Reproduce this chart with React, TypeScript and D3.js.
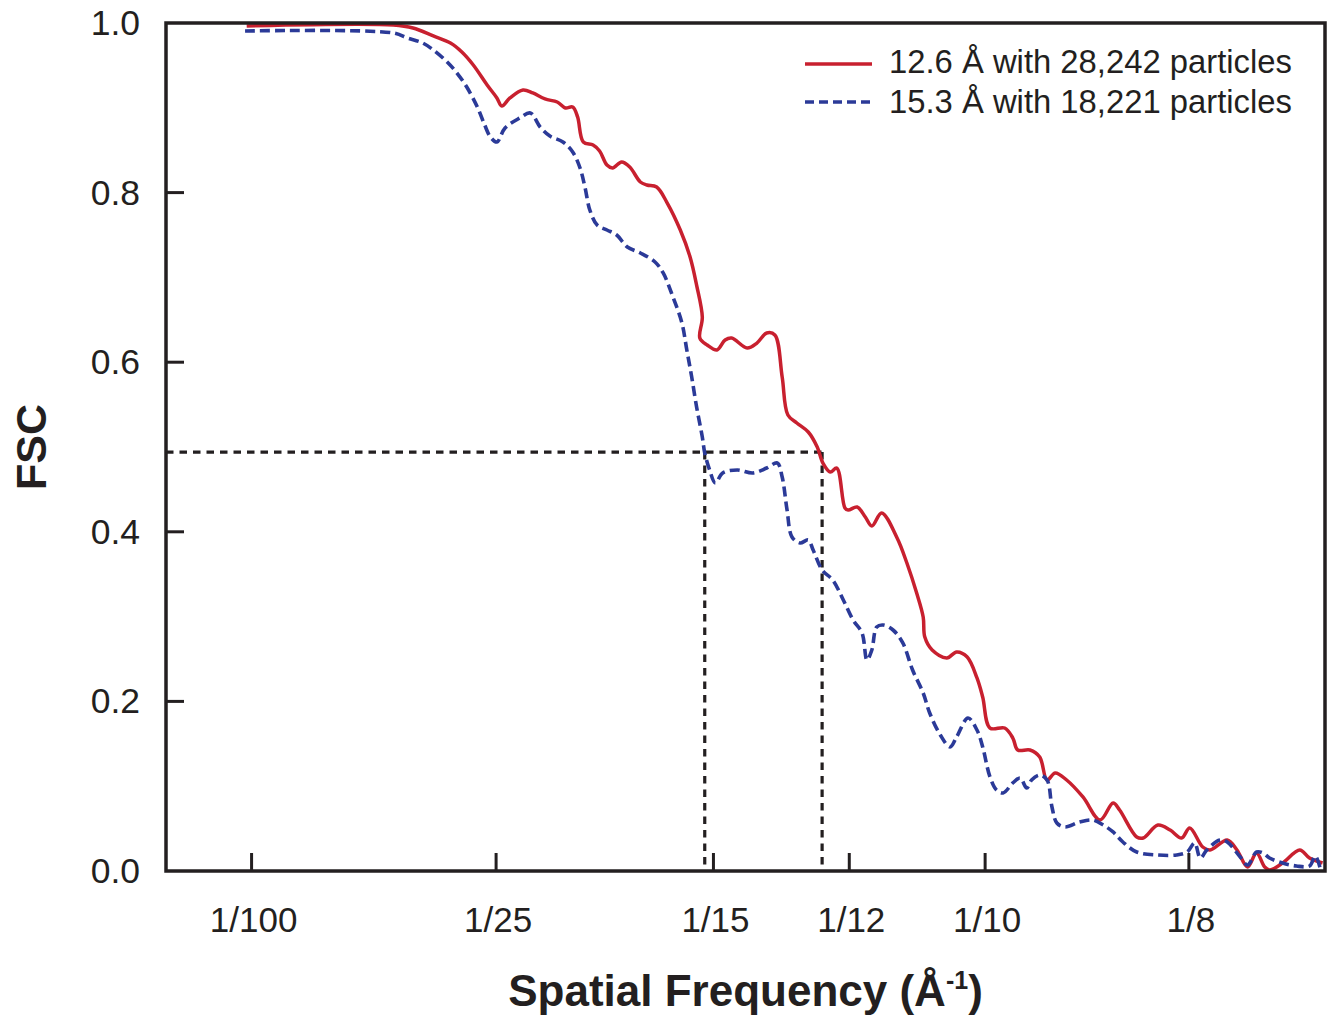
import React from 'react';
import * as d3 from 'd3';

// FSC curves (x in 1/Å, y = FSC)
const redFreq = [
  0.0094, 0.0274, 0.0298, 0.0323, 0.0344, 0.0358, 0.0372, 0.0389, 0.0401, 0.0407,
  0.0417, 0.0433, 0.0445, 0.046, 0.0475, 0.0485, 0.0494, 0.05, 0.0507, 0.0519,
  0.0527, 0.0536, 0.0543, 0.0554, 0.0564, 0.0577, 0.0585, 0.0597, 0.061, 0.0626,
  0.0638, 0.0646, 0.0653, 0.065, 0.0659, 0.0671, 0.0681, 0.0689, 0.0708, 0.072,
  0.0732, 0.0742, 0.0751, 0.0758, 0.0769, 0.0783, 0.0794, 0.0801, 0.081, 0.0818,
  0.0828, 0.0832, 0.0843, 0.0853, 0.0861, 0.0873, 0.0892, 0.0904, 0.0916, 0.0924,
  0.0926, 0.0935, 0.0953, 0.0965, 0.0978, 0.099, 0.0997, 0.1006, 0.1024, 0.1034,
  0.104, 0.1055, 0.1067, 0.1076, 0.1086, 0.11, 0.112, 0.1141, 0.1157, 0.1165,
  0.1186, 0.1194, 0.1212, 0.1227, 0.1241, 0.1251, 0.1267, 0.1276, 0.1297, 0.1309,
  0.1322, 0.1333, 0.1343, 0.1349, 0.1365, 0.1386, 0.1398, 0.1414,
];
const redFsc = [
  0.9965, 0.9976, 0.9941, 0.9847, 0.9764, 0.9658, 0.9505, 0.9269, 0.9116, 0.9021,
  0.9116, 0.921, 0.9175, 0.9104, 0.9068, 0.8998, 0.9009, 0.8892, 0.8597, 0.8561,
  0.8491, 0.8325, 0.829, 0.8361, 0.8302, 0.8125, 0.809, 0.8066, 0.7877, 0.7559,
  0.7241, 0.691, 0.6533, 0.6285, 0.6203, 0.6144, 0.6262, 0.6285, 0.6167, 0.6226,
  0.6344, 0.6321, 0.5825, 0.5377, 0.5283, 0.5177, 0.5, 0.4811, 0.4705, 0.4752,
  0.4281, 0.4257, 0.4292, 0.4175, 0.4068, 0.4222, 0.3927, 0.3632, 0.3278, 0.2995,
  0.2759, 0.2606, 0.2512, 0.2583, 0.2524, 0.2276, 0.2052, 0.1686, 0.1686, 0.1568,
  0.1427, 0.1427, 0.1344, 0.1073, 0.1156, 0.1073, 0.0873, 0.0601, 0.0802, 0.0719,
  0.0401, 0.0389, 0.0542, 0.0483, 0.0389, 0.0507, 0.0283, 0.0248, 0.0366, 0.0248,
  0.0047, 0.0212, 0.0047, 0.0012, 0.0094, 0.0248, 0.0153, 0.0094,
];

const blueFreq = [
  0.0092, 0.0274, 0.0291, 0.031, 0.0323, 0.034, 0.0352, 0.0364, 0.0377, 0.0386,
  0.0393, 0.0401, 0.0411, 0.0429, 0.0442, 0.0454, 0.0466, 0.0482, 0.0494, 0.0503,
  0.0509, 0.0515, 0.0524, 0.0536, 0.0548, 0.0561, 0.0577, 0.0595, 0.0605, 0.0617,
  0.0628, 0.0634, 0.064, 0.0646, 0.0653, 0.0656, 0.0662, 0.0669, 0.0678, 0.0696,
  0.0715, 0.0732, 0.0745, 0.0751, 0.0757, 0.0763, 0.0773, 0.0783, 0.0789, 0.08,
  0.0813, 0.0826, 0.0838, 0.0849, 0.0855, 0.0861, 0.0867, 0.0875, 0.0887, 0.0899,
  0.0911, 0.0924, 0.0932, 0.0945, 0.0957, 0.0965, 0.0979, 0.099, 0.0997, 0.1006,
  0.1014, 0.1022, 0.1034, 0.1043, 0.1051, 0.1057, 0.1067, 0.1076, 0.1082, 0.1088,
  0.1098, 0.1116, 0.1132, 0.1145, 0.1157, 0.1169, 0.1186, 0.1211, 0.1235, 0.1248,
  0.1257, 0.1264, 0.1272, 0.1288, 0.1297, 0.1313, 0.1322, 0.1333, 0.1341, 0.1349,
  0.1365, 0.1382, 0.1398, 0.1405, 0.1411,
];
const blueFsc = [
  0.9906, 0.9882, 0.9823, 0.9764, 0.9682, 0.954, 0.941, 0.9245, 0.9009, 0.8797,
  0.8656, 0.8597, 0.8762, 0.888, 0.8939, 0.8774, 0.8667, 0.8597, 0.8479, 0.829,
  0.8066, 0.7795, 0.7618, 0.7559, 0.75, 0.7358, 0.7288, 0.7182, 0.7052, 0.6769,
  0.6462, 0.6144, 0.5825, 0.5472, 0.5118, 0.4929, 0.4729, 0.4575, 0.4693, 0.4729,
  0.4693, 0.4752, 0.4811, 0.4646, 0.4257, 0.3939, 0.3868, 0.3903, 0.3785, 0.355,
  0.3432, 0.3196, 0.296, 0.2807, 0.2488, 0.2606, 0.2877, 0.2901, 0.2842, 0.2689,
  0.237, 0.2099, 0.1863, 0.1604, 0.1462, 0.158, 0.1804, 0.1663, 0.1462, 0.1108,
  0.0955, 0.092, 0.1038, 0.1097, 0.0979, 0.1073, 0.1132, 0.1073, 0.0755, 0.0566,
  0.0519, 0.0578, 0.0601, 0.0542, 0.046, 0.0342, 0.0224, 0.0189, 0.0189, 0.0224,
  0.033, 0.0153, 0.0248, 0.0366, 0.0342, 0.0165, 0.0071, 0.0224, 0.0212, 0.0153,
  0.0094, 0.0059, 0.0059, 0.0177, 0.0035,
];

// 0.5-ish threshold and the two resolution crossings
const thresholdFsc = 0.494;
const crossFreqs = [0.0656, 0.08];

const xTickValues = [1 / 100, 1 / 25, 1 / 15, 1 / 12, 1 / 10, 1 / 8];
const xTickLabels = ['1/100', '1/25', '1/15', '1/12', '1/10', '1/8'];
const yTickValues = [0, 0.2, 0.4, 0.6, 0.8, 1.0];

const seriesNames = ['12.6 Å with 28,242 particles', '15.3 Å with 18,221 particles'];

const ink = '#231f20';
const red = '#c8202f';
const blue = '#2b3a98';
const font = '"Liberation Sans", Arial, Helvetica, sans-serif';

const App = () => {
  const xScale = d3.scaleLinear().domain([-0.0005, 0.1417]).range([166, 1325]);
  const yScale = d3.scaleLinear().domain([0, 1]).range([871, 23]);

  const line = d3
    .line<[number, number]>()
    .x((d) => xScale(d[0]))
    .y((d) => yScale(d[1]))
    .curve(d3.curveCatmullRom.alpha(0.5));

  const redPath = line(d3.zip(redFreq, redFsc) as [number, number][]);
  const bluePath = line(d3.zip(blueFreq, blueFsc) as [number, number][]);

  const [x0, x1] = xScale.range();
  const [y0, y1] = yScale.range();

  return (
    <svg
      width={1336}
      height={1019}
      style={{ position: 'absolute', left: 0, top: 0, background: 'white' }}
      fontFamily={font}
    >
      {/* threshold guides */}
      <g stroke={ink} strokeWidth={3.2} strokeDasharray="7.5,6" fill="none">
        <line x1={x0} x2={xScale(crossFreqs[1])} y1={yScale(thresholdFsc)} y2={yScale(thresholdFsc)} />
        {crossFreqs.map((f, i) => (
          <line key={i} x1={xScale(f)} x2={xScale(f)} y1={yScale(thresholdFsc)} y2={y0} />
        ))}
      </g>

      {/* curves */}
      <path d={redPath || ''} fill="none" stroke={red} strokeWidth={3.5} strokeLinejoin="round" />
      <path
        d={bluePath || ''}
        fill="none"
        stroke={blue}
        strokeWidth={3.6}
        strokeDasharray="10,5"
      />

      {/* frame */}
      <rect x={x0} y={y1} width={x1 - x0} height={y0 - y1} fill="none" stroke={ink} strokeWidth={3.5} />

      {/* x ticks */}
      {xTickValues.map((v, i) => (
        <g key={i}>
          <line x1={xScale(v)} x2={xScale(v)} y1={y0} y2={y0 - 18} stroke={ink} strokeWidth={3} />
          <text x={xScale(v) + 2} y={932} textAnchor="middle" fontSize={35} fill={ink}>
            {xTickLabels[i]}
          </text>
        </g>
      ))}

      {/* y ticks */}
      {yTickValues.map((v, i) => (
        <g key={i}>
          {v > 0 && v < 1 && (
            <line x1={x0} x2={x0 + 18} y1={yScale(v)} y2={yScale(v)} stroke={ink} strokeWidth={3} />
          )}
          <text x={140} y={yScale(v) + 12} textAnchor="end" fontSize={35.5} fill={ink}>
            {v.toFixed(1)}
          </text>
        </g>
      ))}

      {/* axis titles */}
      <text
        transform={`translate(46, ${(y0 + y1) / 2}) rotate(-90)`}
        textAnchor="middle"
        fontSize={43}
        fontWeight="bold"
        fill={ink}
      >
        FSC
      </text>
      <text x={(x0 + x1) / 2} y={1006} textAnchor="middle" fontSize={44} fontWeight="bold" fill={ink}>
        Spatial Frequency (Å
        <tspan fontSize={25} dy={-17}>-1</tspan>
        <tspan dy={17}>)</tspan>
      </text>

      {/* legend */}
      <line x1={805} x2={872} y1={64} y2={64} stroke={red} strokeWidth={3.5} />
      <line x1={805} x2={872} y1={102} y2={102} stroke={blue} strokeWidth={3.5} strokeDasharray="9,5" />
      {seriesNames.map((name, i) => (
        <text key={i} x={889} y={73 + i * 40} fontSize={32.8} fill={ink}>
          {name}
        </text>
      ))}
    </svg>
  );
};

export default App;
